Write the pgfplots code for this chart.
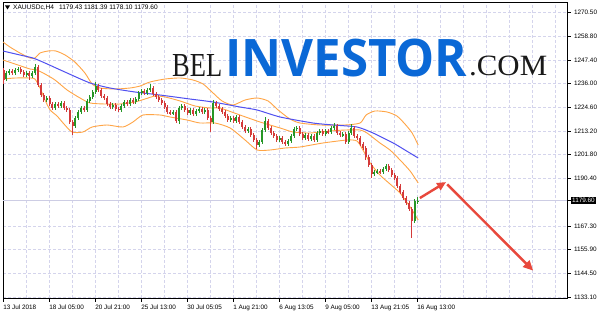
\documentclass[border=0pt]{standalone}
\usepackage{fontspec}
\setmainfont{Liberation Sans}
\newfontfamily\wmserif{Liberation Serif}
\newfontfamily\wmsans{Open Sans}
\usepackage{graphicx}
\usepackage{pgfplots}
\pgfplotsset{compat=1.18}
\usepackage{pgfplotstable}
\usetikzlibrary{arrows.meta}

\definecolor{bullc}{RGB}{38,150,38}
\definecolor{bearc}{RGB}{212,58,58}
\definecolor{bandc}{RGB}{255,165,70}
\definecolor{mac}{RGB}{80,80,240}
\definecolor{gridc}{RGB}{212,212,236}
\definecolor{bidc}{RGB}{205,205,228}
\definecolor{arrowc}{RGB}{232,72,60}
\definecolor{wmblue}{RGB}{10,104,214}

% H4 bars: index, open, high, low, close
\pgfplotstableread{
i o h l c
0 1242.54 1243.50 1235.79 1237.71
1 1238.20 1242.05 1237.23 1241.09
2 1241.09 1243.02 1240.12 1242.05
3 1242.05 1243.02 1240.12 1241.09
4 1241.09 1243.50 1240.12 1242.54
5 1242.54 1243.98 1241.57 1243.02
6 1243.02 1243.98 1240.61 1241.57
7 1241.57 1242.54 1239.16 1240.12
8 1240.12 1242.05 1239.16 1241.09
9 1241.09 1242.05 1237.71 1239.64
10 1239.64 1242.05 1238.68 1241.09
11 1241.09 1245.43 1240.12 1243.98
12 1243.98 1244.95 1234.34 1235.30
13 1235.30 1236.27 1229.52 1230.48
14 1230.48 1231.45 1227.11 1228.07
15 1228.07 1230.00 1227.11 1229.03
16 1229.03 1230.00 1225.18 1226.14
17 1226.14 1227.11 1223.25 1224.21
18 1224.21 1227.11 1223.25 1226.14
19 1226.14 1227.11 1224.21 1225.18
20 1225.18 1227.59 1224.21 1226.62
21 1226.62 1227.59 1223.25 1224.21
22 1224.21 1225.18 1222.28 1223.25
23 1223.25 1224.21 1216.50 1217.46
24 1217.46 1218.43 1211.19 1215.53
25 1215.53 1220.36 1214.57 1219.39
26 1219.39 1223.25 1218.43 1222.28
27 1222.28 1225.18 1221.32 1224.21
28 1224.21 1225.18 1222.28 1223.25
29 1223.25 1228.55 1222.28 1227.59
30 1227.59 1230.48 1226.62 1229.52
31 1229.52 1232.89 1228.55 1231.93
32 1231.93 1236.75 1230.96 1234.82
33 1234.82 1235.79 1231.93 1232.89
34 1232.89 1233.86 1229.03 1230.00
35 1230.00 1230.96 1228.07 1229.03
36 1229.03 1230.00 1225.18 1226.14
37 1226.14 1227.11 1223.73 1224.70
38 1224.70 1226.62 1223.73 1225.66
39 1225.66 1226.62 1222.77 1223.73
40 1223.73 1224.70 1222.28 1223.25
41 1223.25 1226.14 1222.28 1225.18
42 1225.18 1228.07 1224.21 1227.11
43 1227.11 1228.07 1225.18 1226.14
44 1226.14 1229.03 1225.18 1228.07
45 1228.07 1229.03 1226.14 1227.11
46 1227.11 1229.52 1226.14 1228.55
47 1228.55 1232.41 1227.59 1231.45
48 1231.45 1233.38 1230.48 1232.41
49 1232.41 1233.38 1230.48 1231.45
50 1231.45 1233.86 1230.48 1232.89
51 1232.89 1235.79 1231.93 1233.86
52 1233.86 1234.82 1230.00 1230.96
53 1230.96 1231.93 1228.55 1229.52
54 1229.52 1230.48 1227.11 1228.07
55 1228.07 1229.03 1225.66 1226.62
56 1226.62 1227.59 1223.73 1224.70
57 1224.70 1225.66 1221.32 1222.28
58 1222.28 1223.25 1220.84 1221.80
59 1221.80 1223.25 1220.84 1222.28
60 1222.28 1223.25 1216.98 1217.94
61 1217.94 1225.18 1216.50 1224.21
62 1224.21 1226.14 1223.25 1225.18
63 1225.18 1226.14 1222.28 1223.25
64 1223.25 1224.21 1220.84 1221.80
65 1221.80 1224.21 1220.84 1223.25
66 1223.25 1224.21 1220.36 1221.32
67 1221.32 1223.73 1220.36 1222.77
68 1222.77 1224.70 1221.80 1223.73
69 1223.73 1224.70 1221.32 1222.28
70 1222.28 1224.21 1221.32 1223.25
71 1223.25 1224.21 1218.43 1219.39
72 1219.39 1220.36 1212.64 1217.46
73 1217.46 1228.07 1216.50 1226.62
74 1226.62 1227.59 1224.21 1225.18
75 1225.18 1226.14 1222.77 1223.73
76 1223.73 1224.70 1221.32 1222.28
77 1222.28 1223.25 1219.39 1220.36
78 1220.36 1221.32 1217.46 1218.43
79 1218.43 1220.36 1217.46 1219.39
80 1219.39 1220.36 1216.98 1217.94
81 1217.94 1220.84 1216.98 1219.87
82 1219.87 1220.84 1216.50 1217.46
83 1217.46 1218.43 1214.09 1215.05
84 1215.05 1216.02 1212.16 1213.12
85 1213.12 1215.05 1212.16 1214.09
86 1214.09 1215.05 1210.23 1211.19
87 1211.19 1212.16 1207.82 1208.78
88 1208.78 1209.75 1204.44 1206.37
89 1206.37 1208.78 1205.41 1207.82
90 1207.82 1214.57 1206.85 1213.60
91 1213.60 1219.87 1212.64 1217.94
92 1217.94 1218.91 1213.60 1214.57
93 1214.57 1215.53 1211.19 1212.16
94 1212.16 1213.12 1209.75 1210.71
95 1210.71 1211.67 1207.82 1208.78
96 1208.78 1210.71 1207.82 1209.75
97 1209.75 1210.71 1206.85 1207.82
98 1207.82 1208.78 1205.89 1206.85
99 1206.85 1209.26 1205.89 1208.30
100 1208.30 1211.67 1207.34 1210.71
101 1210.71 1215.05 1209.75 1214.09
102 1214.09 1215.53 1213.12 1214.57
103 1214.57 1215.53 1210.71 1211.67
104 1211.67 1212.64 1208.78 1209.75
105 1209.75 1212.16 1208.78 1211.19
106 1211.19 1212.16 1208.30 1209.26
107 1209.26 1211.67 1208.30 1210.71
108 1210.71 1211.67 1207.82 1208.78
109 1208.78 1213.12 1207.82 1212.16
110 1212.16 1214.09 1211.19 1213.12
111 1213.12 1214.09 1210.71 1211.67
112 1211.67 1214.09 1210.71 1213.12
113 1213.12 1214.09 1211.67 1212.64
114 1212.64 1215.53 1211.67 1214.57
115 1214.57 1216.98 1213.60 1215.53
116 1215.53 1216.50 1211.19 1212.16
117 1212.16 1213.12 1210.23 1211.19
118 1211.19 1212.64 1210.23 1211.67
119 1211.67 1212.64 1206.85 1207.82
120 1207.82 1213.12 1206.85 1212.16
121 1212.16 1216.50 1211.19 1214.57
122 1214.57 1215.53 1209.75 1210.71
123 1210.71 1211.67 1208.78 1209.75
124 1209.75 1210.71 1205.89 1206.85
125 1206.85 1207.82 1203.96 1204.92
126 1204.92 1205.89 1199.14 1200.58
127 1200.58 1201.55 1195.76 1196.73
128 1196.73 1197.69 1190.46 1192.39
129 1192.39 1194.32 1191.42 1193.35
130 1193.35 1194.80 1192.39 1193.83
131 1193.83 1194.80 1192.39 1193.35
132 1193.35 1195.76 1192.39 1194.80
133 1194.80 1197.21 1193.83 1196.24
134 1196.24 1197.21 1193.35 1194.32
135 1194.32 1195.28 1190.94 1191.90
136 1191.90 1192.87 1189.49 1190.46
137 1190.46 1191.42 1185.64 1186.60
138 1186.60 1187.57 1182.74 1183.71
139 1183.71 1184.67 1179.85 1180.81
140 1180.81 1181.78 1177.44 1178.40
141 1178.40 1179.37 1174.55 1175.51
142 1175.51 1176.47 1161.53 1169.72
143 1169.72 1180.33 1168.76 1179.43
144 1179.43 1181.39 1178.10 1179.60
}\candles

% Bollinger bands (20, 2)
\pgfplotstableread{
x y
-0.2 1256.04
2.2 1253.63
5.7 1250.73
9.2 1248.32
10.9 1248.32
12.7 1250.73
15.5 1251.70
18.2 1251.70
21.4 1249.77
24.8 1246.39
28.3 1241.09
30.8 1235.79
33.5 1233.86
38.8 1233.38
44.0 1233.86
47.5 1234.82
50.9 1236.75
56.2 1238.20
61.4 1238.68
65.9 1237.71
69.4 1235.79
72.5 1231.93
76.0 1227.59
79.8 1225.66
84.0 1228.07
88.2 1229.03
92.0 1227.59
95.5 1223.25
99.6 1218.91
103.1 1216.98
110.1 1216.02
118.8 1216.02
124.0 1216.98
126.1 1220.84
129.2 1222.77
133.4 1222.28
136.8 1220.36
139.6 1216.50
142.1 1212.16
144.2 1206.37
}\bbupper

\pgfplotstableread{
x y
-0.2 1247.36
4.0 1245.43
9.2 1243.02
11.6 1242.54
14.4 1240.61
17.9 1237.71
22.1 1232.89
26.6 1229.03
30.1 1226.62
35.3 1226.14
40.5 1226.14
45.7 1227.11
49.2 1228.55
52.7 1230.00
56.2 1229.52
61.4 1227.59
66.6 1225.18
71.8 1224.21
75.3 1224.21
82.2 1220.84
89.2 1217.46
96.2 1214.57
100.7 1212.64
106.6 1212.16
113.5 1213.12
118.8 1213.60
124.0 1213.60
126.4 1212.16
130.9 1207.34
134.4 1203.96
137.9 1199.14
141.4 1193.83
144.2 1188.05
}\bbmiddle

\pgfplotstableread{
x y
-0.2 1238.20
4.0 1238.68
9.2 1238.68
10.9 1238.20
12.7 1233.86
14.4 1228.07
16.2 1223.25
18.6 1220.36
20.7 1216.98
23.8 1212.64
27.6 1212.64
30.8 1215.05
36.0 1216.02
41.5 1215.05
45.0 1217.46
48.5 1220.84
54.4 1220.84
57.9 1219.87
63.8 1218.43
68.3 1216.98
73.5 1216.98
78.8 1214.57
84.0 1208.78
88.2 1203.96
92.7 1203.96
97.9 1204.92
103.1 1205.41
111.1 1207.34
119.5 1208.78
122.9 1208.30
125.0 1203.96
127.5 1197.69
130.9 1191.90
134.4 1187.57
137.9 1183.22
141.4 1176.47
144.2 1170.21
}\bblower

% Moving average
\pgfplotstableread{
x y
-0.2 1251.70
5.7 1249.77
10.2 1248.32
14.4 1245.91
22.1 1241.09
30.1 1236.27
37.0 1233.86
45.7 1231.93
54.4 1230.48
64.8 1228.55
72.8 1227.11
82.2 1224.70
88.2 1223.25
96.2 1219.87
107.6 1216.98
114.6 1216.02
122.9 1215.05
128.5 1212.16
135.5 1207.34
139.6 1203.96
144.2 1200.10
}\mavg

\pgfplotsset{
  wicks/.style={forget plot, draw=none, no markers,
    error bars/.cd, y dir=both, y explicit, error mark=none,
    error bar style={line width=0.75bp, draw=#1, solid}},
  bodies/.style={forget plot, draw=none, no markers,
    error bars/.cd, y dir=both, y explicit, error mark=none,
    error bar style={line width=2bp, draw=#1, solid}},
}

\begin{document}
\begin{tikzpicture}
\fill[white] (0,0) rectangle (600bp,315bp);
\useasboundingbox (0,0) rectangle (600bp,315bp);
\begin{axis}[
  at={(3bp,17bp)}, anchor=south west,
  width=564bp, height=296bp, scale only axis,
  xmin=-0.2, xmax=195.97, ymin=1132.59, ymax=1275.33,
  axis line style={black, line width=0.7bp},
  tick align=outside, major tick length=3.5bp, minor tick length=0pt,
  tick style={black, line width=0.6bp},
  xtick pos=bottom, ytick pos=right, yticklabel pos=right,
  xtick={0,16,...,144},
  xticklabels={13 Jul 2018,18 Jul 05:00,20 Jul 21:00,25 Jul 13:00,30 Jul 05:05,1 Aug 21:00,6 Aug 13:05,9 Aug 05:00,13 Aug 21:05,16 Aug 13:00},
  minor xtick={8,24,...,184,160,176,192},
  ytick={1133.1,1144.5,1155.9,1167.3,1190.4,1201.8,1213.2,1224.6,1236.0,1247.4,1258.8,1270.5},
  yticklabels={1133.10,1144.50,1155.90,1167.30,1190.40,1201.80,1213.20,1224.60,1236.00,1247.40,1258.80,1270.50},
  extra y ticks={1179.6}, extra y tick labels={1179.60},
  extra y tick style={grid=major,
    major grid style={solid, draw=bidc, line width=0.7bp},
    yticklabel style={fill=black, text=white, inner xsep=1.5bp, inner ysep=1bp}},
  xmajorgrids, xminorgrids, ymajorgrids,
  major grid style={draw=gridc, dash pattern=on 2.5bp off 2.5bp, line width=0.6bp},
  minor grid style={draw=gridc, dash pattern=on 2.5bp off 2.5bp, line width=0.6bp},
  /pgf/number format/assume math mode=true,
  ticklabel style={font=\fontsize{6.4}{7}\selectfont},
  xticklabel style={anchor=north west, inner xsep=0pt, xshift=-0.5bp},
]
% Bollinger bands and moving average
\addplot[bandc, line width=0.9bp, smooth, tension=0.4] table[x=x,y=y] {\bbupper};
\addplot[bandc, line width=0.9bp, smooth, tension=0.4] table[x=x,y=y] {\bbmiddle};
\addplot[bandc, line width=0.9bp, smooth, tension=0.4] table[x=x,y=y] {\bblower};
\addplot[mac, line width=1bp, smooth, tension=0.4] table[x=x,y=y] {\mavg};

% rising bars
\addplot[wicks=bullc] table[x=i, y=c,
  y error plus expr={\thisrow{h}-\thisrow{c}},
  y error minus expr={\thisrow{c}-\thisrow{l}},
  restrict expr to domain={\thisrow{c}-\thisrow{o}}{0:1000}] {\candles};
\addplot[bodies=bullc] table[x=i, y expr={0.5*(\thisrow{o}+\thisrow{c})},
  y error expr={0.5*abs(\thisrow{c}-\thisrow{o})},
  restrict expr to domain={\thisrow{c}-\thisrow{o}}{0:1000}] {\candles};
% falling bars
\addplot[wicks=bearc] table[x=i, y=c,
  y error plus expr={\thisrow{h}-\thisrow{c}},
  y error minus expr={\thisrow{c}-\thisrow{l}},
  restrict expr to domain={\thisrow{c}-\thisrow{o}}{-1000:-0.0001}] {\candles};
\addplot[bodies=bearc] table[x=i, y expr={0.5*(\thisrow{o}+\thisrow{c})},
  y error expr={0.5*abs(\thisrow{c}-\thisrow{o})},
  restrict expr to domain={\thisrow{c}-\thisrow{o}}{-1000:-0.0001}] {\candles};

% expected path
\draw[arrowc, line width=2.4bp, -{Triangle[length=9bp,width=8bp]}]
  (axis cs:144.8,1180.8) -- (axis cs:153.9,1188.5);
\draw[arrowc, line width=2.4bp, -{Triangle[length=10bp,width=9bp]}]
  (axis cs:154.3,1187.4) -- (axis cs:184.2,1145.8);
\end{axis}

% symbol header
\fill[black] (5bp,309.5bp) -- (10bp,309.5bp) -- (7.5bp,305.5bp) -- cycle;
\node[anchor=west, inner sep=0pt, font=\fontsize{6.6}{7}\selectfont]
  at (13bp,307.5bp) {XAUUSDc,H4\hspace{5bp}1179.43 1181.39 1178.10 1179.60};

% site name
\node[anchor=base west, inner sep=0pt, text=black!90] at (172bp,238bp)
  {\resizebox{50bp}{22bp}{\wmserif BEL}};
\node[anchor=base west, inner sep=0pt, text=wmblue] at (225bp,238bp)
  {\resizebox{242bp}{37.5bp}{\wmsans\bfseries INVESTOR}};
\node[anchor=base west, inner sep=0pt, text=black!90] at (469bp,239bp)
  {\resizebox{78bp}{19.5bp}{\wmserif .COM}};
\end{tikzpicture}
\end{document}
